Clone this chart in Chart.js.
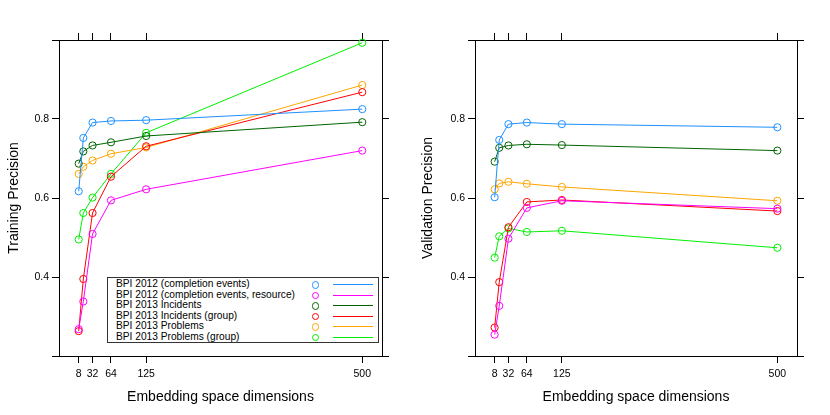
<!DOCTYPE html>
<html>
<head>
<meta charset="utf-8">
<script src="https://cdn.jsdelivr.net/npm/chart.js@4.4.1/dist/chart.umd.min.js"></script>
<style>
  body{margin:0;background:#fff;font-family:"Liberation Sans",Arial,sans-serif;}
  #wrap{position:relative;width:830px;height:415px;overflow:hidden;}
  #wrap canvas{position:absolute;top:0;}
  #legend{position:absolute;left:107px;top:277px;width:270px;height:63px;padding-top:1px;
    border:1px solid #333;background:#fff;font-size:10.2px;color:#000;}
  .row{position:relative;height:10.6px;line-height:10.6px;white-space:nowrap;}
  .row .t{position:absolute;left:8px;top:0;}
  .row .c{position:absolute;left:203.5px;top:2px;width:5.5px;height:5.5px;border:1px solid;border-radius:50%;}
  .row .l{position:absolute;left:225px;top:5px;width:40px;height:0;border-top:1.2px solid;}
</style>
</head>
<body>
<div id="wrap">
  <canvas id="train" width="415" height="415" style="left:0"></canvas>
  <canvas id="valid" width="415" height="415" style="left:415px"></canvas>
  <div id="legend"></div>
</div>
<script>
// --- Data --------------------------------------------------------------------
const DIMS = [8, 16, 32, 64, 125, 500];
const X_TICKS = [8, 32, 64, 125, 500];
const Y_TICKS = [0.2, 0.4, 0.6, 0.8, 1.0];
const Y_LABELED = [0.4, 0.6, 0.8];

const SERIES = ['BPI 2012 (completion events)', 'BPI 2012 (completion events, resource)',
  'BPI 2013 Incidents', 'BPI 2013 Incidents (group)', 'BPI 2013 Problems', 'BPI 2013 Problems (group)'];
const COLORS = ['#1e90ff', '#ff00ff', '#006400', '#ff0000', '#ffa500', '#00ee00'];

// training precision, one array per series
const TR_BPI12     = [0.617, 0.752, 0.791, 0.795, 0.797, 0.825];
const TR_BPI12_RES = [0.268, 0.338, 0.509, 0.594, 0.622, 0.720];
const TR_INC       = [0.687, 0.718, 0.733, 0.741, 0.757, 0.792];
const TR_INC_GRP   = [0.263, 0.395, 0.562, 0.654, 0.731, 0.868];
const TR_PROB      = [0.661, 0.679, 0.695, 0.712, 0.728, 0.886];
const TR_PROB_GRP  = [0.495, 0.562, 0.601, 0.661, 0.765, 0.993];

// validation precision
const VA_BPI12     = [0.602, 0.747, 0.787, 0.791, 0.787, 0.779];
const VA_BPI12_RES = [0.254, 0.327, 0.497, 0.575, 0.593, 0.573];
const VA_INC       = [0.692, 0.727, 0.733, 0.736, 0.734, 0.720];
const VA_INC_GRP   = [0.272, 0.387, 0.526, 0.590, 0.595, 0.567];
const VA_PROB      = [0.622, 0.637, 0.641, 0.636, 0.628, 0.593];
const VA_PROB_GRP  = [0.449, 0.503, 0.523, 0.514, 0.517, 0.474];

const X_MIN = -26.2, X_MAX = 534.2, Y_MIN = 0.2, Y_MAX = 1.0;
const X_TITLE = 'Embedding space dimensions';

Chart.defaults.font.family = '"Liberation Sans", Arial, sans-serif';
Chart.defaults.color = '#000';

// --- Helpers -----------------------------------------------------------------
function datasets(rows){
  return rows.map((vals,i)=>({
    label:SERIES[i], data:vals.map((v,k)=>({x:DIMS[k], y:v})),
    borderColor:COLORS[i], backgroundColor:'rgba(0,0,0,0)', borderWidth:1,
    pointRadius:3.6, pointBorderWidth:1, pointBorderColor:COLORS[i], pointBackgroundColor:'rgba(0,0,0,0)',
    tension:0, clip:false,
  }));
}

function scales(yTitle, yPad){
  const marks = ()=>({display:true, drawOnChartArea:false, drawTicks:true, tickLength:7, tickColor:'#000', lineWidth:1});
  const border = ()=>({display:true, color:'#000', width:1});
  const xTicks = s=>{ s.ticks = X_TICKS.map(v=>({value:v})); };
  const yTicks = s=>{ s.ticks = Y_TICKS.map(v=>({value:v})); };
  return {
    x:{type:'linear', position:'bottom', min:X_MIN, max:X_MAX, afterBuildTicks:xTicks,
       ticks:{font:{size:10.5}, padding:5, maxRotation:0, autoSkip:false, callback:v=>String(v)},
       grid:marks(), border:border(),
       title:{display:true, text:X_TITLE, font:{size:14}, padding:{top:0, bottom:9}},
       afterFit:s=>{ s.height = 59; }},
    x2:{type:'linear', position:'top', min:X_MIN, max:X_MAX, afterBuildTicks:xTicks,
       ticks:{display:false}, grid:marks(), border:border(), afterFit:s=>{ s.height = 40; }},
    y:{type:'linear', position:'left', min:Y_MIN, max:Y_MAX, afterBuildTicks:yTicks,
       ticks:{font:{size:10.5}, padding:3, callback:v=> Y_LABELED.some(t=>Math.abs(t-v)<1e-9) ? v.toFixed(1) : ''},
       grid:marks(), border:border(),
       title:{display:true, text:yTitle, font:{size:14}, padding:{top:yPad, bottom:0}},
       afterFit:s=>{ s.width = 59; }},
    y2:{type:'linear', position:'right', min:Y_MIN, max:Y_MAX, afterBuildTicks:yTicks,
       ticks:{display:false}, grid:marks(), border:border(), afterFit:s=>{ s.width = 33; }},
  };
}

function panel(id, rows, yTitle, yPad, leftW){
  const cfg = scales(yTitle, yPad);
  cfg.y.afterFit = s=>{ s.width = leftW; };
  return new Chart(document.getElementById(id), {
    type:'line',
    data:{datasets:datasets(rows)},
    options:{
      responsive:false, animation:false, devicePixelRatio:1,
      layout:{padding:0},
      plugins:{legend:{display:false}, tooltip:{enabled:false}},
      scales:cfg,
    },
  });
}

panel('train', [TR_BPI12, TR_BPI12_RES, TR_INC, TR_INC_GRP, TR_PROB, TR_PROB_GRP], 'Training Precision', 6, 59);
panel('valid', [VA_BPI12, VA_BPI12_RES, VA_INC, VA_INC_GRP, VA_PROB, VA_PROB_GRP], 'Validation Precision', 5, 60);

// --- Legend (inside the left panel) -------------------------------------------
const lg = document.getElementById('legend');
SERIES.forEach((name,i)=>{
  const r = document.createElement('div'); r.className = 'row';
  r.innerHTML = `<span class="t">${name}</span><span class="c" style="border-color:${COLORS[i]}"></span><span class="l" style="border-color:${COLORS[i]}"></span>`;
  lg.appendChild(r);
});
</script>
</body>
</html>
